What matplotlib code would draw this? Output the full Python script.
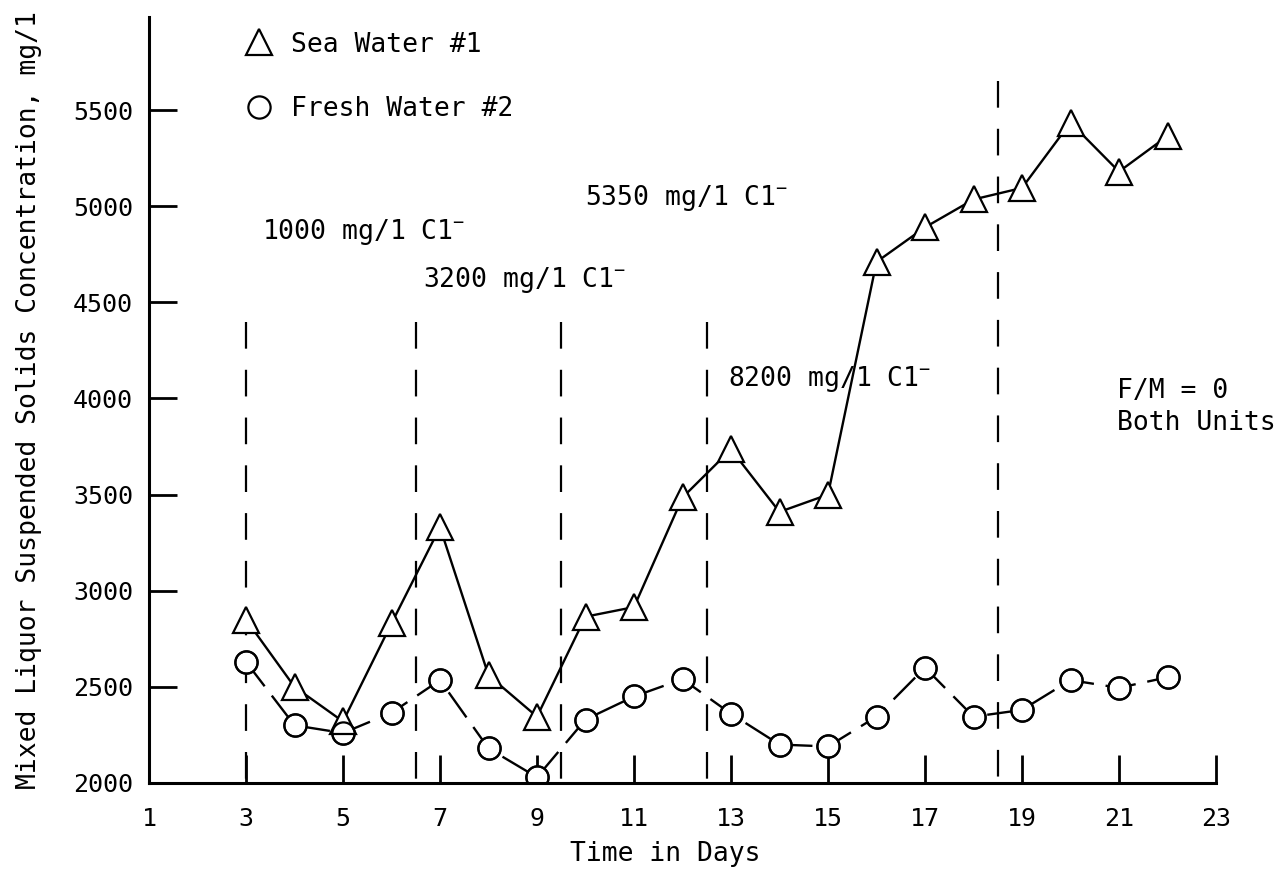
import matplotlib
matplotlib.use("Agg")
import matplotlib.pyplot as plt
from matplotlib.lines import Line2D

plt.rcParams['font.family'] = ['DejaVu Sans Mono', 'DejaVu Sans']
plt.rcParams['mathtext.fontset'] = 'custom'
plt.rcParams['mathtext.rm'] = 'DejaVu Sans Mono'
plt.rcParams['mathtext.it'] = 'DejaVu Sans Mono'
plt.rcParams['mathtext.bf'] = 'DejaVu Sans Mono:bold'

# data
days = [3, 4, 5, 6, 7, 8, 9, 10, 11, 12, 13, 14, 15, 16, 17, 18, 19, 20, 21, 22]
sea_water = [2850, 2500, 2320, 2830, 3330, 2560, 2345, 2865, 2915, 3485,
             3735, 3410, 3500, 4710, 4890, 5035, 5095, 5435, 5180, 5365]
fresh_water = [2630, 2300, 2260, 2365, 2535, 2180, 2030, 2330, 2450, 2540,
               2360, 2200, 2190, 2345, 2600, 2345, 2380, 2535, 2495, 2550]

# chloride step changes
boundary_days = [3, 6.5, 9.5, 12.5, 18.5]
boundary_tops = [4400, 4400, 4400, 4400, 5650]
step_labels = [r"1000 mg/1 C1$^{-}$", r"3200 mg/1 C1$^{-}$",
               r"5350 mg/1 C1$^{-}$", r"8200 mg/1 C1$^{-}$"]
step_x = [3.33, 6.65, 9.99, 12.94]
step_y = [4867, 4617, 5044, 4100]

x_ticks = list(range(1, 24, 2))
y_ticks = list(range(2000, 5501, 500))

fig = plt.figure(figsize=(12.79, 8.75), dpi=100)
ax = fig.add_axes([149 / 1279, 92 / 875, 1067 / 1279, 766 / 875])

ax.vlines(boundary_days, boundary_tops, 2000, colors='black', lw=1.6,
          linestyles=(0, (12, 9.5)), zorder=1)

ax.plot(days, fresh_water, color='black', lw=1.7, dashes=(13, 5),
        marker='o', ms=16, mfc='white', mec='black', mew=1.6, zorder=2)
ax.plot(days, sea_water, color='black', lw=1.7,
        marker='^', ms=19, mfc='white', mec='black', mew=1.6, zorder=3)
# outlines again so overlapping markers both show
ax.plot(days, fresh_water, ls='none', marker='o', ms=16, mfc='none',
        mec='black', mew=1.6, zorder=4)

for s, x, y in zip(step_labels, step_x, step_y):
    ax.text(x, y, s, fontsize=19, ha='left', va='center')

ax.text(20.96, 3955, "F/M = 0\nBoth Units", fontsize=19, ha='left',
        va='center', linespacing=1.33)

handles = [Line2D([], [], ls='none', marker='^', ms=19, mfc='white',
                  mec='black', mew=1.6),
           Line2D([], [], ls='none', marker='o', ms=16, mfc='white',
                  mec='black', mew=1.6)]
ax.legend(handles, ["Sea Water #1", "Fresh Water #2"], loc='upper left',
          bbox_to_anchor=(0.091, 0.981), frameon=False, fontsize=19,
          handlelength=1.0, handletextpad=0.7, labelspacing=1.45,
          borderpad=0, borderaxespad=0)

ax.set_xlim(1, 23)
ax.set_ylim(2000, 5984)
ax.set_xticks(x_ticks)
ax.set_yticks(y_ticks)
ax.tick_params(direction='in', length=20, width=2.0, labelsize=18)
ax.tick_params(axis='x', pad=17)
ax.tick_params(axis='y', pad=11.5)

for side in ['top', 'right']:
    ax.spines[side].set_visible(False)
for side in ['left', 'bottom']:
    ax.spines[side].set_linewidth(2.2)

ax.set_xlabel("Time in Days", fontsize=19)
ax.set_ylabel("Mixed Liquor Suspended Solids Concentration, mg/1", fontsize=19)
ax.xaxis.set_label_coords(0.484, -0.076)
ax.yaxis.set_label_coords(-0.10, 0.5)

fig.savefig("out.png", dpi=100)
